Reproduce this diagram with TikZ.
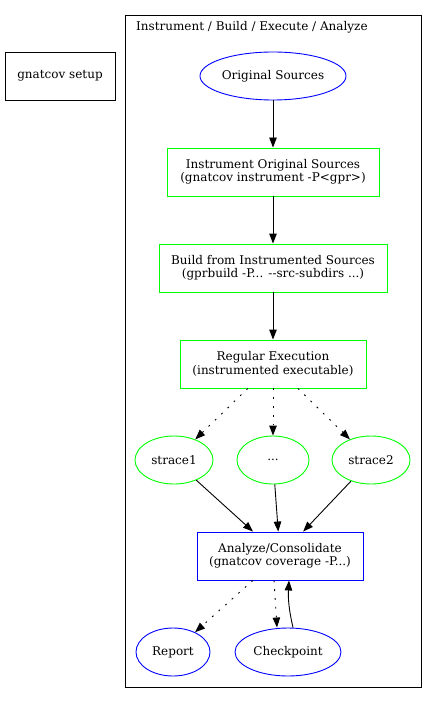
\documentclass[tikz,border=0pt]{standalone}
\usepackage{fontspec}
\setmainfont{DejaVu Serif}
\usetikzlibrary{shapes.geometric,arrows.meta}
\definecolor{gvgreen}{RGB}{0,255,0}
\definecolor{gvblue}{RGB}{0,0,255}
\begin{document}
\begin{tikzpicture}[x=1pt,y=-1pt,
  every node/.style={font=\fontsize{12}{13.4}\selectfont, align=center, inner sep=0pt},
  boxn/.style={draw, rectangle, line width=0.9pt},
  ell/.style={draw, ellipse, line width=0.9pt},
  ed/.style={draw, line width=0.9pt, -{Triangle[length=10pt,width=7.5pt]}},
  dot/.style={ed, dash pattern=on 1.8pt off 7pt},
]
\useasboundingbox (0,0) rectangle (437,703);
\node[boxn, minimum width=110, minimum height=48] (setup) at (60,76) {gnatcov setup};
\node[draw, line width=0.9pt, minimum width=296, minimum height=672] (cluster) at (273,351) {};
\node[anchor=base west] (clabel) at (136,31) {Instrument / Build / Execute / Analyze};
\node[ell, gvblue, text=black, minimum width=146, minimum height=48] (orig) at (273,76) {Original Sources};
\node[boxn, gvgreen, text=black, minimum width=212, minimum height=48] (instr) at (273,172) {Instrument Original Sources\\(gnatcov instrument -P<gpr>)};
\node[boxn, gvgreen, text=black, minimum width=228, minimum height=48] (build) at (273,268) {Build from Instrumented Sources\\(gprbuild -P... -{}-src-subdirs ...)};
\node[boxn, gvgreen, text=black, minimum width=186, minimum height=48] (reg) at (273,364) {Regular Execution\\(instrumented executable)};
\node[ell, gvgreen, text=black, minimum width=78, minimum height=48] (s1) at (174,460) {strace1};
\node[ell, gvgreen, text=black, minimum width=72, minimum height=48] (sd) at (273,460) {...};
\node[ell, gvgreen, text=black, minimum width=78, minimum height=48] (s2) at (371,460) {strace2};
\node[boxn, gvblue, text=black, minimum width=166, minimum height=48] (an) at (280,556) {Analyze/Consolidate\\(gnatcov coverage -P...)};
\node[ell, gvblue, text=black, minimum width=74, minimum height=48] (rep) at (173,652) {Report};
\node[ell, gvblue, text=black, minimum width=106, minimum height=48] (cp) at (288,652) {Checkpoint};
\draw[ed] (orig) -- (instr);
\draw[ed] (instr) -- (build);
\draw[ed] (build) -- (reg);
\draw[dot] (reg) -- (s1);
\draw[dot] (reg) -- (sd);
\draw[dot] (reg) -- (s2);
\draw[ed] (s1) -- (an);
\draw[ed] (sd) -- (an);
\draw[ed] (s2) -- (an);
\draw[dot] (an) -- (rep);
\draw[dot] ([xshift=-6]an.south) -- ([xshift=-11]cp.north);
\draw[ed] ([xshift=5]cp.north) to[bend left=8] ([xshift=9]an.south);
\end{tikzpicture}
\end{document}
